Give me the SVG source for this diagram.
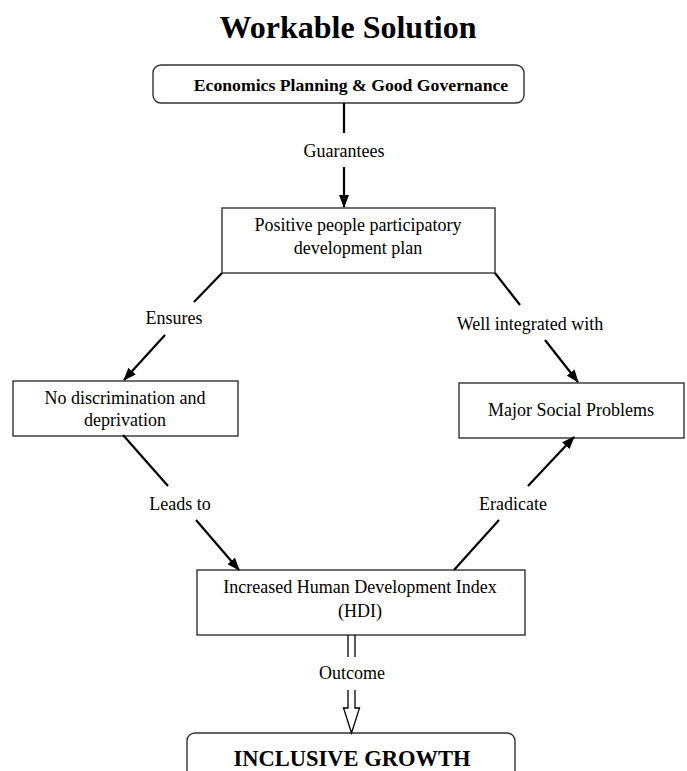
<svg xmlns="http://www.w3.org/2000/svg" width="687" height="771" viewBox="0 0 687 771">
<style>
text{font-family:"Liberation Serif","Times New Roman",serif;fill:#000}
.t{font-size:18px;text-anchor:middle}
.box{fill:#fff;stroke:#333;stroke-width:1.4}
.c{stroke:#000;stroke-width:2.2;fill:none}
</style>
<defs>
<marker id="ah" markerUnits="userSpaceOnUse" markerWidth="13" markerHeight="10" refX="12" refY="5" orient="auto">
<path d="M0,0 L13,5 L0,10 z" fill="#000"/>
</marker>
</defs>
<rect width="687" height="771" fill="#fff"/>
<text x="348" y="38" style="font-size:32px;font-weight:bold;text-anchor:middle">Workable Solution</text>

<g id="n-econ">
<rect class="box" x="153" y="65" width="371" height="38" rx="8"/>
<text x="351" y="91" style="font-size:17.7px;font-weight:bold;text-anchor:middle">Economics Planning &amp; Good Governance</text>
</g>
<g id="n-plan">
<rect class="box" x="222" y="208" width="273" height="65"/>
<text class="t" x="358" y="231">Positive people participatory</text>
<text class="t" x="358" y="254">development plan</text>
</g>
<g id="n-nodisc">
<rect class="box" x="13" y="381" width="225" height="55"/>
<text class="t" x="125" y="404">No discrimination and</text>
<text class="t" x="125" y="426">deprivation</text>
</g>
<g id="n-social">
<rect class="box" x="459" y="383" width="225" height="55"/>
<text class="t" x="571" y="416">Major Social Problems</text>
</g>
<g id="n-hdi">
<rect class="box" x="197" y="570" width="328" height="65"/>
<text class="t" x="360" y="593">Increased Human Development Index</text>
<text class="t" x="360" y="617">(HDI)</text>
</g>
<g id="n-growth">
<rect class="box" x="187" y="733" width="328" height="60" rx="8"/>
<text x="352" y="766" style="font-size:22.5px;font-weight:bold;text-anchor:middle">INCLUSIVE GROWTH</text>
</g>

<g id="connectors">
<line class="c" x1="344" y1="103" x2="344" y2="133"/>
<line class="c" x1="344" y1="167" x2="344" y2="207" marker-end="url(#ah)"/>
<line class="c" x1="222" y1="273" x2="194" y2="302"/>
<line class="c" x1="165" y1="335" x2="124" y2="380" marker-end="url(#ah)"/>
<line class="c" x1="495" y1="273" x2="520" y2="305"/>
<line class="c" x1="545" y1="340" x2="578" y2="382" marker-end="url(#ah)"/>
<line class="c" x1="123" y1="435" x2="168" y2="486"/>
<line class="c" x1="196" y1="520" x2="239" y2="570" marker-end="url(#ah)"/>
<line class="c" x1="454" y1="570" x2="499" y2="520"/>
<line class="c" x1="528" y1="486" x2="574" y2="437" marker-end="url(#ah)"/>
<line x1="348" y1="635" x2="348" y2="657" stroke="#000" stroke-width="1.3"/>
<line x1="355" y1="635" x2="355" y2="657" stroke="#000" stroke-width="1.3"/>
<path d="M348,690 V708 H343.5 L351.5,733 L359.5,708 H355 V690" fill="#fff" stroke="#000" stroke-width="1.3"/>
<text class="t" x="344" y="157">Guarantees</text>
<text class="t" x="174" y="324">Ensures</text>
<text class="t" x="530" y="330">Well integrated with</text>
<text class="t" x="180" y="510">Leads to</text>
<text class="t" x="513" y="510">Eradicate</text>
<text class="t" x="352" y="679">Outcome</text>
</g>
</svg>
